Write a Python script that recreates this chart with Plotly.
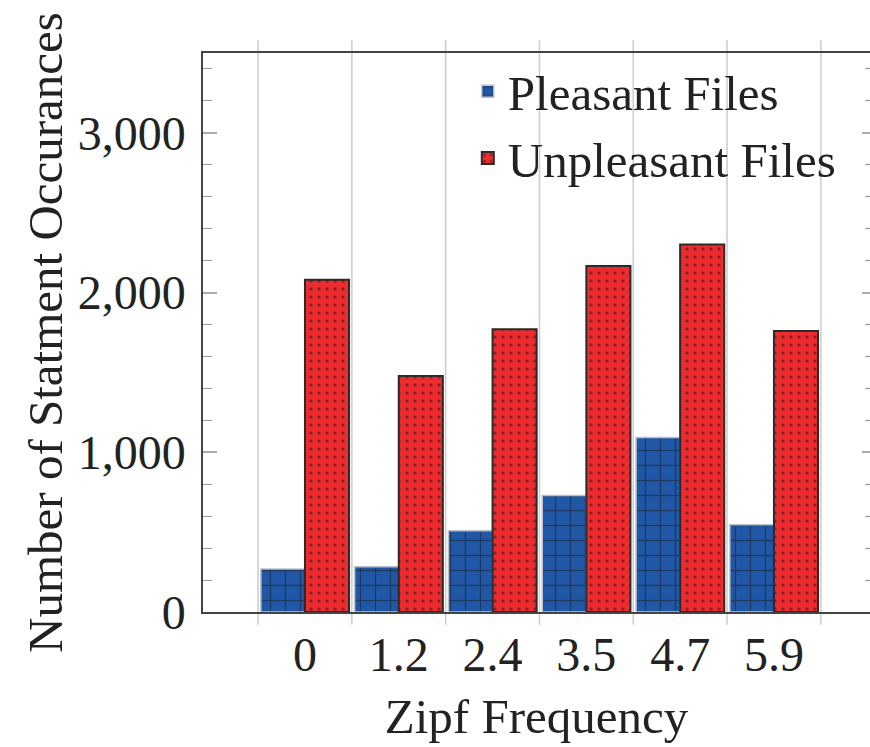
import plotly.graph_objects as go

categories = ["0", "1.2", "2.4", "3.5", "4.7", "5.9"]
pleasant = [269, 284, 509, 729, 1092, 547]
unpleasant = [2080, 1477, 1771, 2166, 2301, 1759]
y_ticks = [0, 1000, 2000, 3000]
y_tick_text = ["0", "1,000", "2,000", "3,000"]

idx = list(range(len(categories)))
FONT = "Liberation Serif, Times New Roman, serif"

fig = go.Figure()
fig.add_trace(go.Bar(
    x=idx, y=pleasant, name="Pleasant Files",
    marker=dict(color="#2057a7", line=dict(color="#b9c0cc", width=1.5),
                pattern=dict(shape="+", fillmode="overlay", fgcolor="#1e1e1e",
                             size=15, solidity=0.17)),
))
fig.add_trace(go.Bar(
    x=idx, y=unpleasant, name="Unpleasant Files",
    marker=dict(color="#ee2c2f", line=dict(color="#2a2a2a", width=2),
                pattern=dict(shape=".", fillmode="overlay", fgcolor="#1e1e1e",
                             size=8, solidity=0.16)),
))
# invisible trace so the right-hand tick axis is drawn
fig.add_trace(go.Scatter(x=[], y=[], yaxis="y2", showlegend=False, hoverinfo="skip"))

# vertical separator grid lines between groups
for b in [i - 0.5 for i in range(len(categories) + 1)]:
    fig.add_shape(type="line", xref="x", yref="paper", x0=b, x1=b, y0=-0.023, y1=1.023,
                  line=dict(color="#cccccc", width=1.5), layer="below")

fig.update_layout(
    width=870, height=747,
    margin=dict(l=203, r=0, t=53, b=135),
    paper_bgcolor="white", plot_bgcolor="white",
    barmode="group", bargap=0.06, bargroupgap=0,
    font=dict(family=FONT, size=48, color="#222222"),
    showlegend=True,
    legend=dict(x=0.397, y=1.0, xanchor="left", yanchor="top",
                bgcolor="rgba(0,0,0,0)", font=dict(family=FONT, size=49, color="#222222"),
                tracegroupgap=0, itemwidth=30),
    xaxis=dict(range=[-1.087, 6.024], tickvals=idx, ticktext=categories,
               ticks="", showgrid=False, zeroline=False,
               showline=True, linecolor="#444444", linewidth=1.5, mirror=True,
               tickfont=dict(family=FONT, size=48), ticklabelstandoff=0,
               title=dict(text="Zipf Frequency", font=dict(family=FONT, size=49), standoff=18)),
    yaxis=dict(range=[0, 3500], tickvals=y_ticks, ticktext=y_tick_text,
               ticks="inside", ticklen=14, tickwidth=1.5, tickcolor="#aaaaaa",
               minor=dict(dtick=200, tick0=0, ticks="inside", ticklen=9, tickwidth=1.2,
                          tickcolor="#999999", showgrid=False),
               showgrid=False, zeroline=False,
               showline=True, linecolor="#444444", linewidth=1.5,
               tickfont=dict(family=FONT, size=48), ticklabelstandoff=6,
               title=dict(text="Number of Statment Occurances", font=dict(family=FONT, size=49),
                          standoff=0)),
    yaxis2=dict(overlaying="y", side="right", range=[0, 3500], tickvals=y_ticks,
                ticks="inside", ticklen=8, tickwidth=1.5, tickcolor="#aaaaaa",
                minor=dict(dtick=200, tick0=0, ticks="inside", ticklen=5, tickwidth=1.2,
                           tickcolor="#999999"),
                showticklabels=False, showgrid=False, zeroline=False, showline=False),
)

fig.write_html("out.html")
